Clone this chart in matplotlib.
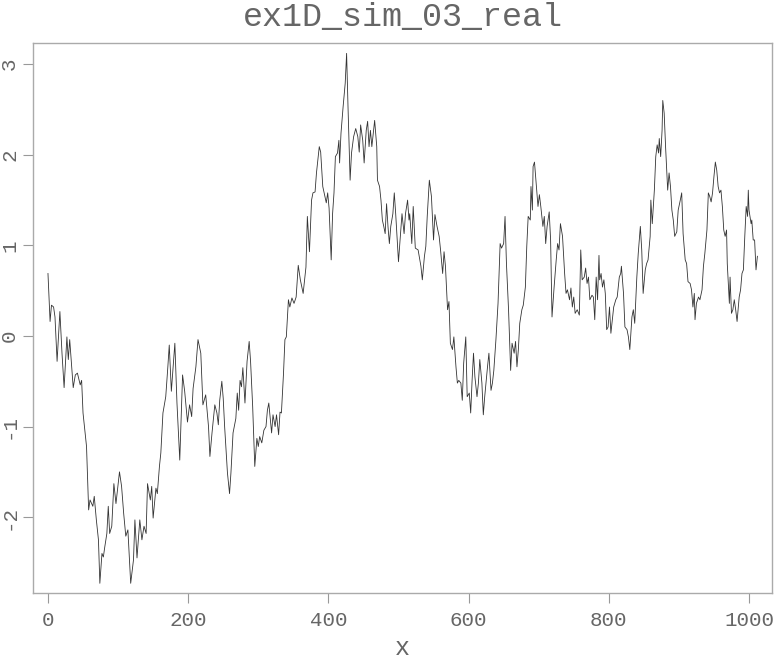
import matplotlib
matplotlib.use("Agg")
import matplotlib.pyplot as plt

# values
x_vals = [0, 3, 5, 8, 10, 13, 17, 20, 23, 27, 29, 31, 36, 39, 42, 46, 48, 50, 53, 55,
          58, 60, 64, 66, 69, 72, 74, 77, 79, 81, 84, 86, 88, 91, 94, 97, 102, 105, 108, 111,
          114, 118, 122, 124, 127, 131, 134, 137, 140, 142, 146, 148, 150, 154, 156, 159,
          161, 164, 168, 171, 173, 176, 181, 184, 188, 192, 195, 199, 202, 205, 207, 211,
          214, 218, 221, 225, 229, 231, 234, 238, 241, 243, 245, 248, 250, 252, 256, 259,
          261, 264, 268, 270, 272, 274, 276, 278, 281, 284, 287, 289, 292, 295, 298, 300,
          302, 305, 308, 311, 313, 315, 319, 321, 324, 326, 329, 331, 333, 336,
          338, 340, 343, 345, 348, 351, 354, 357, 360, 364, 368, 370, 373, 376, 378, 381,
          383, 387, 389, 392, 394, 397, 399, 401, 404, 406, 408, 410, 413, 415, 416, 418,
          421, 424, 426, 428, 431, 433, 436, 439, 442, 444, 446, 449, 451, 454, 456, 458,
          460, 462, 464, 466, 469, 470, 473, 475, 477, 479, 481, 483, 485, 487, 489, 492,
          494, 496, 500, 503, 505, 508, 510, 513, 515,
          516, 519, 521, 524, 528, 532, 534, 537, 539, 541, 544, 547, 550, 552, 555, 558,
          560, 563, 565, 567, 570, 572, 574, 577, 579, 582, 584, 586, 589, 591, 593, 596,
          598, 601, 603, 605, 607, 609, 612, 614, 616, 619, 621, 623, 627, 629, 632, 634,
          636, 639, 642, 645, 647, 650, 652, 654, 657, 660, 662, 665, 667, 669, 671, 673,
          676, 678, 681, 683, 685, 688, 689, 691, 692, 694, 696, 699, 701, 703, 706, 708,
          710, 712, 715, 717, 719, 722, 725, 727, 729, 731, 734, 737, 739, 741, 744, 746,
          748, 750, 752, 755, 758, 760, 762, 765, 767, 769, 771, 773, 776, 778, 780, 782,
          784, 786, 787, 789, 791, 793, 795, 797, 799, 801, 803, 805, 807, 810, 812, 815,
          817, 818, 821, 823, 826, 828, 830, 833, 835, 837, 840, 842, 845, 847,
          849, 852, 854, 856, 859, 860, 862, 865, 867, 869, 871, 872, 874, 876, 877, 879,
          881, 883, 884, 886, 888, 890, 892, 894, 897, 899, 902, 904, 906, 909, 911, 913,
          916, 918, 920, 922, 923, 925, 928, 930, 933, 935, 937, 940, 942, 944, 946, 948,
          950, 952, 954, 956, 958, 960, 962, 964, 966, 968, 969, 972, 973, 975, 977, 979,
          981, 983, 986, 988, 990, 992, 994, 996, 998, 999, 1000, 1003, 1004, 1006, 1008,
          1010, 1012]

y_vals = [0.69, 0.16, 0.34, 0.32, 0.21, -0.28, 0.27, -0.19, -0.57, -0.01, -0.26, -0.04,
          -0.57, -0.43, -0.41, -0.54, -0.49, -0.85, -1.07, -1.22,
          -1.92, -1.81, -1.88, -1.77, -2.03, -2.25, -2.73, -2.40, -2.44, -2.33, -2.18, -1.88,
          -2.18, -2.10, -1.63, -1.85, -1.50, -1.66, -1.96, -2.21,
          -2.14, -2.73, -2.47, -2.03, -2.45, -2.03, -2.25, -2.10, -2.18, -1.63, -1.81, -1.66,
          -2.01, -1.68, -1.74, -1.44,
          -1.29, -0.85, -0.67, -0.34, -0.10, -0.61, -0.08, -0.74, -1.37, -0.43, -0.61, -0.95,
          -0.76, -0.89, -0.58, -0.34,
          -0.04, -0.19, -0.76, -0.65, -1.00, -1.33, -1.07, -0.76, -0.85, -0.98, -0.71, -0.50,
          -0.69, -1.00, -1.51, -1.74,
          -1.51, -1.07, -0.91, -0.63, -0.82, -0.49, -0.56, -0.35, -0.74, -0.28, -0.06, -0.28,
          -0.78, -1.44, -1.13, -1.22,
          -1.11, -1.18, -1.04, -1.00, -0.82, -0.74, -1.07, -0.87, -1.00, -0.87, -1.09, -0.84,
          -0.85, -0.41,
          -0.04, -0.01, 0.40, 0.32, 0.42, 0.36, 0.43, 0.78, 0.62, 0.47, 0.76, 1.32, 0.93, 1.50,
          1.58, 1.59,
          1.80, 2.09, 2.03, 1.65, 1.58, 1.47, 1.58, 1.41, 0.84, 1.35, 1.58, 1.98, 2.02, 2.16,
          1.91, 2.24,
          2.53, 2.79, 3.12, 2.53, 1.72, 2.02, 2.20, 2.29, 2.20, 2.03, 2.33, 2.16, 1.91, 2.27,
          2.37, 2.09,
          2.27, 2.09, 2.24, 2.38, 2.09, 1.72, 1.65, 1.50, 1.28, 1.21, 1.13, 1.46, 1.21, 1.02,
          1.21, 1.35,
          1.58, 1.35, 0.82, 1.13, 1.35, 1.13, 1.35, 1.50, 1.28,
          1.35, 1.02, 1.43, 0.97, 0.95, 0.77, 0.62, 0.88, 0.99, 1.32, 1.72, 1.54, 1.06, 1.34,
          1.21, 1.10,
          0.95, 0.69, 0.93, 0.77, 0.29, 0.38, -0.08, -0.15, -0.01, -0.34, -0.52, -0.49, -0.52,
          -0.71, -0.30, -0.01,
          -0.67, -0.63, -0.85, -0.49, -0.19, -0.45, -0.67, -0.52, -0.26, -0.52, -0.87, -0.67,
          -0.34, -0.19, -0.60, -0.52,
          -0.38, -0.04, 0.36, 1.02, 0.97, 1.02, 1.32, 0.80, 0.29, -0.38, -0.08, -0.19, -0.06,
          -0.34, -0.15, 0.14,
          0.29, 0.34, 0.54, 0.99, 1.32, 1.28, 1.65, 1.39, 1.87, 1.92, 1.72, 1.43, 1.56, 1.43,
          1.21, 1.32,
          1.02, 1.21, 1.37, 1.06, 0.21, 0.54, 0.84, 1.02, 0.95, 1.24, 1.10, 0.69, 0.47, 0.51,
          0.40, 0.53,
          0.32, 0.43, 0.25, 0.29, 0.23, 0.95, 0.62, 0.65, 0.75, 0.58, 0.65, 0.40, 0.45, 0.43,
          0.18, 0.65,
          0.40, 0.89, 0.62, 0.69, 0.54, 0.62, 0.47, 0.07, 0.10, 0.32, 0.03, 0.18, 0.32, 0.40,
          0.43, 0.65,
          0.69, 0.77, 0.47, 0.10, 0.07, -0.01, -0.15, 0.21, 0.29, 0.14, 0.65, 0.91, 1.21, 0.95,
          0.47, 0.73, 0.80, 0.84, 1.10, 1.50, 1.24, 1.61, 1.98, 2.11, 2.02, 2.18, 1.98, 2.27,
          2.60, 2.46,
          2.09, 1.76, 1.61, 1.80, 1.65, 1.39, 1.28, 1.10, 1.15, 1.39, 1.50, 1.58, 1.13, 0.84,
          0.80, 0.60,
          0.58, 0.51, 0.32, 0.47, 0.18, 0.36, 0.43, 0.40, 0.51, 0.77, 0.91, 1.17, 1.58, 1.54,
          1.48, 1.58,
          1.76, 1.92, 1.83, 1.65, 1.58, 1.61, 1.43, 1.17, 1.10, 1.17, 0.80, 0.36, 0.65, 0.25,
          0.29, 0.40,
          0.29, 0.16, 0.43, 0.51, 0.69, 0.73, 1.10, 1.43, 1.32, 1.61, 1.39, 1.24, 1.28, 1.06,
          1.06,
          0.73, 0.88]

x_ticks = [0, 200, 400, 600, 800, 1000]
y_ticks = [-2, -1, 0, 1, 2, 3]

plt.rcParams["font.family"] = ["Liberation Mono", "DejaVu Sans Mono"]
txt = "#666666"

fig = plt.figure(figsize=(7.74, 6.61), dpi=100)
ax = fig.add_axes([0.0426, 0.1029, 0.9548, 0.832])

ax.plot(x_vals, y_vals, color="#333333", lw=0.6)

ax.set_xlim(-21.4, 1032.8)
ax.set_ylim(-2.837, 3.234)
ax.set_xticks(x_ticks)
ax.set_yticks(y_ticks)
ax.set_yticklabels([str(v) for v in y_ticks], rotation=90, va="center")
ax.tick_params(direction="out", length=7, width=0.8, color="#999999",
               labelsize=15, labelcolor=txt, pad=6)
ax.tick_params(axis="y", pad=3)
for s in ax.spines.values():
    s.set_color("#aaaaaa")
    s.set_linewidth(1.0)

ax.set_title("ex1D_sim_03_real", fontsize=24, color=txt, pad=12)
ax.set_xlabel("x", fontsize=18, color=txt, labelpad=4)

fig.savefig("out.png", dpi=100)
